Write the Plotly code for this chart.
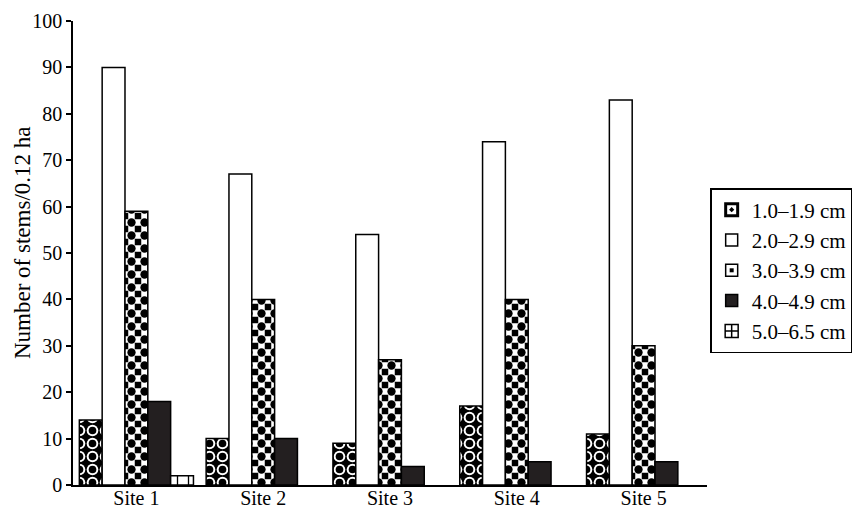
import plotly.graph_objects as go

sites = ["Site 1", "Site 2", "Site 3", "Site 4", "Site 5"]
size_classes = ["1.0\u20131.9 cm", "2.0\u20132.9 cm", "3.0\u20133.9 cm", "4.0\u20134.9 cm", "5.0\u20136.5 cm"]
d_1_0 = [14, 10, 9, 17, 11]
d_2_0 = [90, 67, 54, 74, 83]
d_3_0 = [59, 40, 27, 40, 30]
d_4_0 = [18, 10, 4, 5, 5]
d_5_0 = [2, None, None, None, None]
y_ticks = [0, 10, 20, 30, 40, 50, 60, 70, 80, 90, 100]

FONT = "Liberation Serif, Times New Roman, serif"
OUT = dict(color="black", width=1.5)

fig = go.Figure()

# legend entry for 1.0-1.9 (symbol only)
fig.add_trace(go.Scatter(
    x=[None], y=[None], mode="markers", name=size_classes[0], hoverinfo="skip",
    marker=dict(symbol="square-open-dot", size=12, color="black",
                line=dict(color="black", width=3)),
))
# 1.0-1.9 bars: black ground with white rings
fig.add_trace(go.Bar(
    x=sites, y=d_1_0, name=size_classes[0], offsetgroup="a", showlegend=False,
    marker=dict(color="black", line=OUT,
                pattern=dict(shape=".", bgcolor="black", fgcolor="white",
                             size=13, solidity=0.63, fillmode="replace")),
))
fig.add_trace(go.Bar(
    x=sites, y=d_2_0, name=size_classes[1], offsetgroup="b",
    marker=dict(color="white", line=OUT),
))
# 3.0-3.9: checkerboard base (black squares at tile corners)
fig.add_trace(go.Bar(
    x=sites, y=d_3_0, name=size_classes[2], offsetgroup="c",
    marker=dict(color="black", line=OUT,
                pattern=dict(shape="+", bgcolor="black", fgcolor="white",
                             size=13, solidity=0.75, fillmode="replace")),
))
fig.add_trace(go.Bar(
    x=sites, y=d_4_0, name=size_classes[3], offsetgroup="d",
    marker=dict(color="#231f20", line=OUT),
))
# legend entry for 5.0-6.5 (symbol only)
fig.add_trace(go.Scatter(
    x=[None], y=[None], mode="markers", name=size_classes[4], hoverinfo="skip",
    marker=dict(symbol="square-cross-open", size=13, color="black",
                line=dict(color="black", width=1.5)),
))
fig.add_trace(go.Bar(
    x=sites, y=d_5_0, name=size_classes[4], offsetgroup="e", showlegend=False,
    marker=dict(color="white", line=OUT,
                pattern=dict(shape="|", bgcolor="white", fgcolor="black",
                             size=11, solidity=0.12, fillmode="replace")),
))
# overlays: black centre dots
fig.add_trace(go.Bar(
    x=sites, y=d_1_0, name=size_classes[0], offsetgroup="a", showlegend=False,
    hoverinfo="skip",
    marker=dict(color="rgba(0,0,0,0)", line=dict(width=0),
                pattern=dict(shape=".", fgcolor="black", fgopacity=1, size=13,
                             solidity=0.27, fillmode="overlay")),
))
fig.add_trace(go.Bar(
    x=sites, y=d_3_0, name=size_classes[2], offsetgroup="c", showlegend=False,
    hoverinfo="skip",
    marker=dict(color="rgba(0,0,0,0)", line=dict(width=0),
                pattern=dict(shape=".", fgcolor="black", fgopacity=1, size=13,
                             solidity=0.32, fillmode="overlay")),
))

fig.update_layout(
    width=864, height=509,
    margin=dict(l=73, r=143, t=21, b=24),
    barmode="group", bargap=0.1, bargroupgap=0,
    plot_bgcolor="white", paper_bgcolor="white",
    font=dict(family=FONT, size=20, color="black"),
    showlegend=True,
    legend=dict(x=1.005, y=0.64, xanchor="left", yanchor="top",
                bordercolor="black", borderwidth=1.5, bgcolor="white",
                font=dict(family=FONT, size=21, color="black"),
                tracegroupgap=0, traceorder="normal"),
    annotations=[dict(
        text="Number of stems/0.12 ha", xref="paper", yref="paper",
        x=0, y=0.5, xshift=-51, yshift=10, textangle=-90,
        xanchor="center", yanchor="middle", showarrow=False,
        font=dict(family=FONT, size=23, color="black"),
    )],
)
fig.update_xaxes(
    type="category", categoryorder="array", categoryarray=sites,
    showline=True, linecolor="black", linewidth=1.5, ticks="",
    showgrid=False, zeroline=False, range=[-0.5, 4.5],
    ticklabelstandoff=-6,
    tickfont=dict(family=FONT, size=20, color="black"), automargin=False,
)
fig.update_yaxes(
    range=[0, 100], tickvals=y_ticks, ticks="outside", ticklen=5, tickwidth=1.5,
    tickcolor="black", showline=True, linecolor="black", linewidth=1.5,
    showgrid=False, zeroline=False, automargin=False,
    tickfont=dict(family=FONT, size=20, color="black"),
)

fig.write_html("out.html")
